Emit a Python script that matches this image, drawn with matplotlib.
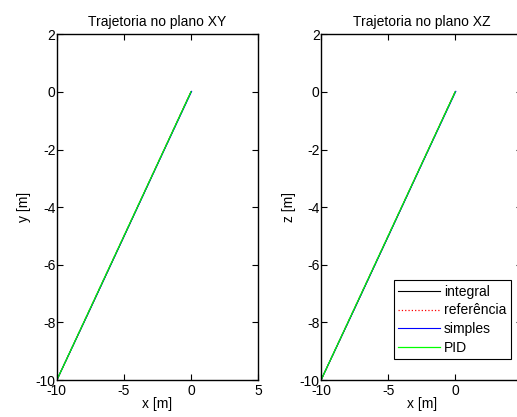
import numpy as np
import matplotlib.pyplot as plt

plt.rcParams['font.family'] = ['Liberation Sans', 'DejaVu Sans']
plt.rcParams['font.size'] = 10
plt.rcParams['axes.unicode_minus'] = False

# Trajetórias (x, y, z) - retas de (-10,-10) até (0,0)
x_ref = [-10, -7.5, -5, -2.5, 0]
y_ref = [-10, -7.5, -5, -2.5, 0]
z_ref = [-10, -7.5, -5, -2.5, 0]

x_int = [-10, -7.5, -5, -2.5, 0]
y_int = [-10, -7.52, -5.02, -2.51, 0]
z_int = [-10, -7.52, -5.02, -2.51, 0]

x_simp = [-10, -7.48, -4.98, -2.48, 0.05]
y_simp = [-10, -7.5, -5.0, -2.5, 0.02]
z_simp = [-10, -7.5, -5.0, -2.5, 0.02]

x_pid = [-10, -7.5, -5, -2.5, 0]
y_pid = [-10, -7.5, -5, -2.5, 0]
z_pid = [-10, -7.5, -5, -2.5, 0]

xticks = [-10, -5, 0, 5]
yticks = [-10, -8, -6, -4, -2, 0, 2]

fig = plt.figure(figsize=(5.17, 4.17), dpi=100)
ax1 = fig.add_axes([0.110, 0.0887, 0.389, 0.829])
ax2 = fig.add_axes([0.621, 0.0887, 0.389, 0.829])


def desenha(ax, xs, ys, titulo, ylab):
    ax.plot(xs[0], ys[0], color='black', lw=0.8, label='integral')
    ax.plot(xs[1], ys[1], color='red', lw=0.9, ls=':', label='referência')
    ax.plot(xs[2], ys[2], color='blue', lw=0.8, label='simples')
    ax.plot(xs[3], ys[3], color='#00ff00', lw=0.9, label='PID')
    ax.set_xlim(-10, 5)
    ax.set_ylim(-10, 2)
    ax.set_xticks(xticks)
    ax.set_yticks(yticks)
    ax.tick_params(direction='in', top=True, right=True, length=4, width=0.8,
                   labelsize=10)
    ax.tick_params(axis='x', pad=3)
    ax.tick_params(axis='y', pad=1)
    for s in ax.spines.values():
        s.set_linewidth(1.0)
    ax.set_title(titulo, fontsize=10, pad=6)
    ax.set_xlabel('x [m]', fontsize=10, labelpad=-1)
    ax.set_ylabel(ylab, fontsize=10, labelpad=3)


desenha(ax1, [x_int, x_ref, x_simp, x_pid], [y_int, y_ref, y_simp, y_pid],
        'Trajetoria no plano XY', 'y [m]')
desenha(ax2, [x_int, x_ref, x_simp, x_pid], [z_int, z_ref, z_simp, z_pid],
        'Trajetoria no plano XZ', 'z [m]')

leg = ax2.legend(loc='lower right', bbox_to_anchor=(0.942, 0.06), fontsize=10,
                 fancybox=False, edgecolor='black', framealpha=1,
                 handlelength=3.0, handletextpad=0.3, labelspacing=0.35,
                 borderpad=0.3, borderaxespad=0)
leg.get_frame().set_linewidth(0.8)

fig.savefig('out.png', dpi=100)
